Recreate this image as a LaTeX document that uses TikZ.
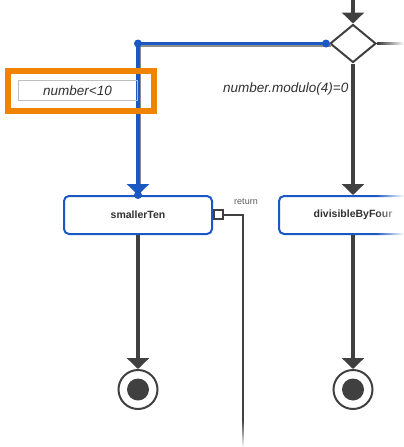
\documentclass[tikz,border=0pt]{standalone}
\usepackage{fontspec}
\setmainfont{Liberation Sans}
\usetikzlibrary{shapes.geometric,arrows.meta,fadings}
\definecolor{dk}{HTML}{404040}
\definecolor{txt}{HTML}{303030}
\definecolor{bl}{HTML}{1C58C4}
\definecolor{org}{HTML}{F08300}
\tikzfading[name=fadeR, left color=transparent!100, right color=transparent!0]
\tikzfading[name=fadeD, top color=transparent!100, bottom color=transparent!0]
\begin{document}
\begin{tikzpicture}[x=1pt,y=-1pt,
  dia/.style={diamond, draw=dk, line width=2pt, fill=white, inner sep=0pt, minimum width=46pt, minimum height=38pt},
  act/.style={draw=bl, line width=2pt, rounded corners=5pt, fill=white, minimum width=148pt, minimum height=38pt, inner sep=0pt, text=txt, font=\fontsize{10.5}{12}\selectfont\bfseries},
  port/.style={draw=dk, line width=1.5pt, fill=white, minimum size=9pt, inner sep=0pt},
  fin/.style={circle, draw=dk, line width=2pt, fill=white, minimum size=39pt, inner sep=0pt},
  lbl/.style={draw=black!25, line width=1pt, minimum width=119pt, minimum height=20pt, inner sep=0pt, text=txt, font=\fontsize{13.5}{15}\selectfont\itshape},
  hl/.style={draw=org, line width=6pt, minimum width=145.7pt, minimum height=40pt, inner sep=0pt},
  guard/.style={text=txt, font=\fontsize{13.5}{15}\selectfont\itshape, inner sep=0pt},
  retl/.style={text=black!65, font=\fontsize{9}{10}\selectfont, inner sep=0pt},
  conn/.style={draw=dk, line width=4pt},
  tip/.style={-{Triangle[width=22pt,length=11pt]}},
]
\useasboundingbox (0,0) rectangle (404,447);
\clip (0,0) rectangle (404,447);

\coordinate (top) at (353,0);
\coordinate (bj) at (138,43.5);
\coordinate (rend) at (404,43.5);
\coordinate (rbot) at (243,447);

\node[dia] (dec) at (353,43.5) {};
\node[act] (st) at (138,215) {smallerTen};
\node[act] (dbf) at (353,215) {divisibleByFour};
\node[port] (pt) at (218.5,214.5) {};
\node[fin] (f1) at (138,389.5) {};
\node[fin] (f2) at (353,389.5) {};
\fill[dk] (f1) circle[radius=11];
\fill[dk] (f2) circle[radius=11];

% connectors
\draw[conn, tip] (top) -- (dec.north);
\draw[dk, line width=3pt] (dec.east) -- (rend);
\draw[conn, tip] (dec.south) -- (dbf.north);
\draw[conn, tip] (st.south) -- (f1.north);
\draw[conn, tip] (dbf.south) -- (f2.north);
\draw[dk, line width=2pt] (pt.east) -- (pt.east -| rbot) -- (rbot);

% highlighted (blue) connector with its gray shadow
\draw[black!45, line width=3pt] ([shift={(1.5,1.5)}]dec.west) -- ([shift={(1.5,1.5)}]bj) -- ([shift={(1.5,-10)}]st.north);
\draw[bl, line width=3.5pt, tip] (dec.west) -- (bj) -- (st.north);
\fill[bl] ([xshift=-3pt]dec.west) circle[radius=4];
\fill[bl] (bj) circle[radius=4];
\fill[bl] (st.north) circle[radius=4];

% fades at the edges
\fill[white, path fading=fadeR] (378,36) rectangle (404,51);
\fill[white, path fading=fadeR] (376,190) rectangle (404,240);
\fill[white, path fading=fadeD] (232,420) rectangle (254,447);

% labels
\node[lbl] (l1) at (77.5,90.5) {number<10};
\node[hl] (hlb) at (80.8,91) {};
\node[guard, anchor=east] (l2) at (348.5,89) {number.modulo(4)=0};
\node[retl] (rt) at (246,202) {return};
\end{tikzpicture}
\end{document}
